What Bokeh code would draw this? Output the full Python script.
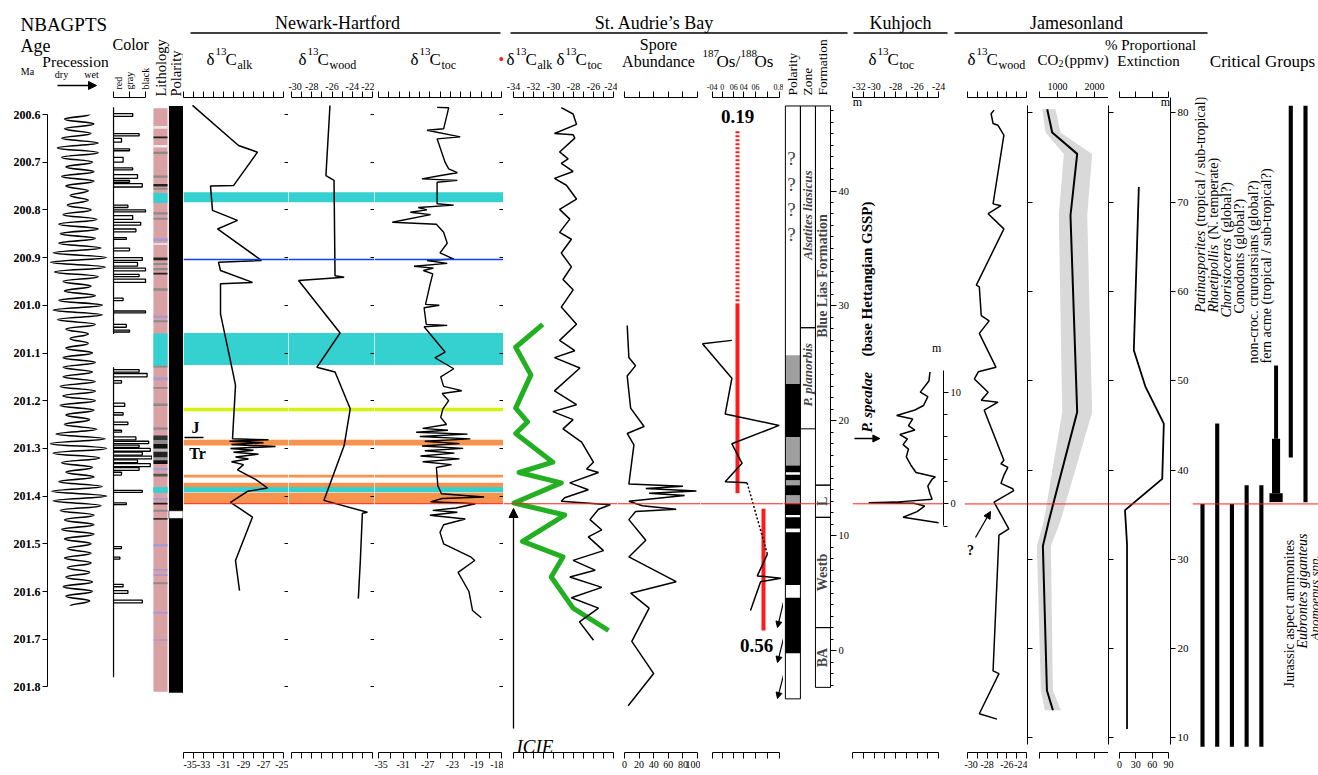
import math
from bokeh.plotting import figure
from bokeh.layouts import row, column
from bokeh.models import (Range1d, LinearAxis, FixedTicker, Label, Span, BoxAnnotation,
                          Arrow, NormalHead, CustomJSTickFormatter, NumeralTickFormatter)
from bokeh.embed import file_html
from bokeh.resources import INLINE

# ======================= DATA =======================
age_ticks = [200.6, 200.7, 200.8, 200.9, 201.0, 201.1, 201.2, 201.3, 201.4, 201.5, 201.6, 201.7, 201.8]

prec_age = [200.600, 200.610, 200.620, 200.630, 200.640, 200.650, 200.660, 200.670, 200.680, 200.690,
            200.700, 200.710, 200.720, 200.730, 200.740, 200.750, 200.760, 200.770, 200.780, 200.790,
            200.800, 200.810, 200.820, 200.830, 200.840, 200.850, 200.860, 200.870, 200.880, 200.890,
            200.900, 200.910, 200.920, 200.930, 200.940, 200.950, 200.960, 200.970, 200.980, 200.990,
            201.000, 201.010, 201.020, 201.030, 201.040, 201.050, 201.060, 201.070, 201.080, 201.090,
            201.100, 201.110, 201.120, 201.130, 201.140, 201.150, 201.160, 201.170, 201.180, 201.190,
            201.200, 201.210, 201.220, 201.230, 201.240, 201.250, 201.260, 201.270, 201.280, 201.290,
            201.300, 201.310, 201.320, 201.330, 201.340, 201.350, 201.360, 201.370, 201.380, 201.390,
            201.400, 201.410, 201.420, 201.430, 201.440, 201.450, 201.460, 201.470, 201.480, 201.490,
            201.500, 201.510, 201.520, 201.530, 201.540, 201.550, 201.560, 201.570, 201.580, 201.590,
            201.600, 201.610, 201.620, 201.630]
prec_val = [0.40, -0.50, 0.55, -0.50, 0.45, -0.60, 0.70, -0.75, 0.70, -0.60,
            0.50, -0.45, 0.55, -0.60, 0.55, -0.45, 0.35, -0.30, 0.35, -0.40,
            0.45, -0.55, 0.65, -0.70, 0.70, -0.65, 0.60, -0.70, 0.80, -0.90,
            1.00, -1.00, 0.95, -0.85, 0.70, -0.55, 0.45, -0.50, 0.60, -0.70,
            0.85, -0.90, 0.85, -0.75, 0.60, -0.45, 0.35, -0.30, 0.35, -0.45,
            0.50, -0.55, 0.60, -0.55, 0.50, -0.55, 0.60, -0.65, 0.60, -0.55,
            0.60, -0.65, 0.55, -0.45, 0.40, -0.50, 0.65, -0.80, 0.95, -1.00,
            1.00, -0.90, 0.75, -0.60, 0.50, -0.45, 0.55, -0.70, 0.85, -0.95,
            1.00, -0.90, 0.80, -0.65, 0.55, -0.50, 0.55, -0.60, 0.55, -0.50,
            0.45, -0.40, 0.45, -0.50, 0.45, -0.40, 0.40, -0.45, 0.50, -0.55,
            0.50, -0.45, 0.40, -0.30]

color_base_top = [200.585, 201.130]
color_base_bot = [201.060, 201.780]
color_sp_top = [200.598, 200.640, 200.650, 200.672, 200.690, 200.712, 200.726, 200.738, 200.745, 200.790,
                200.800, 200.812, 200.826, 200.840, 200.858, 200.880, 200.900, 200.910, 200.922, 200.935,
                200.945, 200.985, 201.012, 201.040, 201.052, 201.135, 201.143, 201.158, 201.205, 201.225,
                201.245, 201.262, 201.276, 201.285, 201.293, 201.300, 201.308, 201.316, 201.324, 201.332,
                201.340, 201.350, 201.388, 201.414, 201.506, 201.528, 201.585, 201.598, 201.618]
color_sp_bot = [200.604, 200.645, 200.658, 200.676, 200.700, 200.716, 200.734, 200.742, 200.752, 200.795,
                200.804, 200.820, 200.832, 200.846, 200.862, 200.886, 200.906, 200.918, 200.928, 200.940,
                200.952, 200.990, 201.016, 201.046, 201.056, 201.140, 201.150, 201.163, 201.212, 201.230,
                201.250, 201.266, 201.282, 201.290, 201.298, 201.306, 201.314, 201.322, 201.330, 201.338,
                201.346, 201.356, 201.392, 201.418, 201.510, 201.532, 201.590, 201.604, 201.624]
color_sp_val = [1.2, 1.6, 0.5, 1.0, 0.6, 1.2, 1.5, 1.0, 1.8, 0.9,
                2.0, 1.2, 1.7, 1.4, 0.8, 1.0, 1.8, 1.5, 2.0, 1.6,
                2.0, 0.6, 2.0, 0.8, 1.0, 1.6, 2.1, 0.5, 0.7, 0.6,
                0.9, 0.5, 1.4, 2.2, 1.6, 2.3, 1.8, 2.4, 1.5, 2.3,
                1.6, 0.5, 1.8, 0.8, 0.5, 0.4, 0.6, 0.9, 1.8]

litho_range = (200.585, 201.810)
litho_top = [200.622, 200.644, 200.662, 200.676, 200.726, 200.744, 200.752, 200.803, 200.815, 200.858,
             200.868, 200.898, 200.910, 200.920, 200.930, 200.963, 201.020, 201.030, 201.125, 201.150,
             201.170, 201.205, 201.255, 201.272, 201.282, 201.290, 201.300, 201.306, 201.318, 201.324,
             201.340, 201.352, 201.380, 201.403, 201.413, 201.428, 201.445, 201.500, 201.552, 201.563,
             201.580, 201.642, 201.700]
litho_bot = [200.628, 200.648, 200.667, 200.681, 200.731, 200.749, 200.756, 200.808, 200.819, 200.864,
             200.872, 200.904, 200.914, 200.925, 200.934, 200.968, 201.026, 201.034, 201.129, 201.156,
             201.174, 201.210, 201.260, 201.282, 201.290, 201.300, 201.306, 201.318, 201.324, 201.332,
             201.345, 201.358, 201.392, 201.408, 201.417, 201.432, 201.449, 201.505, 201.556, 201.567,
             201.584, 201.646, 201.703]
litho_col = ["#e8e8e8", "#222222", "#eeeeee", "#8a8a8a", "#8a8a8a", "#222222", "#8a8a8a", "#8a8a8a", "#8a8a8a", "#a69ad0",
             "#e0e0e0", "#222222", "#8a8a8a", "#8a8a8a", "#222222", "#8a8a8a", "#a69ad0", "#8a8a8a", "#8a8a8a", "#a69ad0",
             "#8a8a8a", "#8a8a8a", "#8a8a8a", "#333333", "#8a8a8a", "#111111", "#bbbbbb", "#222222", "#999999", "#111111",
             "#a69ad0", "#555555", "#57c9d6", "#a69ad0", "#222222", "#8a8a8a", "#333333", "#a69ad0", "#a69ad0", "#a69ad0",
             "#8a8a8a", "#a69ad0", "#a69ad0"]

nb_pol_range = (200.580, 201.812)
nb_pol_white = (201.430, 201.446)

band_top = [200.763, 201.058, 201.215, 201.282, 201.355, 201.372, 201.381, 201.393]
band_bot = [200.784, 201.125, 201.222, 201.294, 201.361, 201.381, 201.392, 201.416]
band_col = ["#35d0d0", "#35d0d0", "#d4f20a", "#f7934c", "#f7934c", "#f7934c", "#35d0d0", "#f7934c"]
blue_line_age = 200.904
tj_age = 201.416

nh_alk_age = [200.581, 200.665, 200.679, 200.749, 200.750, 200.801, 200.822, 200.840, 200.906, 200.910,
              200.927, 200.952, 200.955, 201.018, 201.147, 201.168, 201.280, 201.282, 201.285, 201.288,
              201.292, 201.296, 201.300, 201.304, 201.308, 201.312, 201.318, 201.322, 201.328, 201.334,
              201.345, 201.365, 201.383, 201.390, 201.413, 201.444, 201.535, 201.598]
nh_alk_val = [-34.1, -29.5, -27.6, -30.0, -32.3, -32.1, -29.6, -31.6, -27.2, -31.5,
              -31.3, -28.1, -31.3, -31.3, -30.0, -29.8, -30.1, -26.5, -30.4, -27.0,
              -30.2, -25.8, -30.3, -28.0, -30.0, -27.5, -29.8, -28.5, -30.2, -29.0,
              -29.6, -27.8, -26.6, -28.6, -30.3, -28.1, -29.8, -29.4]

nh_wood_age = [200.581, 200.728, 200.738, 200.938, 200.941, 200.948, 201.058, 201.130, 201.140, 201.217,
               201.294, 201.409, 201.434, 201.436, 201.535, 201.615]
nh_wood_val = [-26.2, -26.6, -25.8, -25.7, -24.8, -29.3, -25.2, -27.5, -25.7, -24.2,
               -24.8, -26.8, -22.5, -23.0, -23.2, -23.4]

nh_toc_age = [200.585, 200.586, 200.630, 200.633, 200.647, 200.651, 200.700, 200.714, 200.722, 200.728,
              200.735, 200.738, 200.742, 200.787, 200.790, 200.795, 200.800, 200.805, 200.810, 200.826,
              200.830, 200.847, 200.870, 200.890, 200.903, 200.906, 200.912, 200.918, 200.922, 200.927,
              200.934, 200.958, 200.998, 201.000, 201.005, 201.040, 201.042, 201.045, 201.098, 201.110,
              201.133, 201.150, 201.170, 201.179, 201.185, 201.200, 201.217, 201.235, 201.250, 201.258,
              201.262, 201.266, 201.270, 201.275, 201.280, 201.285, 201.290, 201.295, 201.300, 201.305,
              201.310, 201.316, 201.322, 201.328, 201.334, 201.340, 201.378, 201.395, 201.402, 201.405,
              201.412, 201.416, 201.425, 201.430, 201.434, 201.440, 201.448, 201.460, 201.476, 201.500,
              201.528, 201.535, 201.560, 201.600, 201.640, 201.655]
nh_toc_val = [-26.9, -25.3, -26.0, -28.3, -23.7, -26.9, -25.8, -25.3, -24.1, -26.4,
              -29.0, -24.1, -26.9, -26.9, -24.6, -29.5, -28.3, -30.6, -27.8, -33.1,
              -27.0, -26.0, -25.5, -26.5, -24.6, -28.3, -25.5, -30.1, -27.4, -28.8,
              -27.5, -27.9, -28.5, -26.6, -28.7, -28.4, -25.5, -28.7, -25.8, -27.2,
              -24.6, -26.4, -26.0, -23.5, -26.2, -25.3, -26.1, -26.4, -25.6, -28.9,
              -25.4, -29.8, -22.7, -29.3, -22.3, -28.6, -23.8, -29.0, -23.3, -28.6,
              -24.5, -29.2, -23.8, -28.9, -24.9, -27.0, -26.8, -26.3, -20.4, -26.2,
              -27.8, -21.6, -24.3, -27.5, -24.1, -27.9, -23.0, -26.0, -26.5, -26.0,
              -22.2, -21.7, -24.0, -22.5, -22.0, -20.8]

sta_toc_m = [47.25, 46.7, 45.8, 45.0, 44.9, 44.6, 43.4, 42.8, 42.4, 41.7, 41.1, 40.5, 39.3, 38.4, 37.55,
             36.4, 35.8, 34.6, 33.4, 32.3, 31.4, 29.9, 28.4, 27.0, 26.1, 25.5, 24.6, 22.6, 21.4, 20.8,
             20.1, 19.3, 18.15, 16.4, 15.8, 15.5, 14.6, 14.0, 13.3, 13.0, 12.7, 12.3, 11.4, 10.5, 9.9,
             8.7, 7.85, 7.0, 6.4, 5.5, 4.6, 3.7, 2.5, 0.9]
sta_toc_val = [-29.22, -28.04, -27.7, -29.9, -28.04, -27.87, -29.39, -28.54, -29.22, -28.04, -29.9, -28.71, -27.7,
               -29.39, -28.37, -29.39, -28.21, -29.22, -28.21, -29.05, -28.04, -29.22, -27.7, -29.39, -27.87,
               -29.9, -27.36, -29.9, -27.7, -30.06, -28.04, -29.05, -27.19, -26.01, -26.69, -25.5, -28.37,
               -26.52, -28.88, -29.22, -24.32, -25.5, -26.35, -25.17, -26.52, -25.0, -28.04, -25.84, -28.37,
               -25.17, -28.21, -25.5, -27.4, -26.0]
sta_alk_m = [28.4, 26.4, 24.0, 21.1, 19.9, 18.9, 16.4, 15.5, 14.6, 12.85, 11.8, 9.5, 8.15, 6.4, 3.7, 1.75]
sta_alk_val = [-31.08, -33.78, -32.26, -33.78, -32.6, -33.78, -30.06, -33.44, -29.22, -33.95, -28.88, -33.1,
               -29.05, -30.23, -28.04, -24.5]
sta_spore_m = [28.3, 25.5, 24.8, 23.9, 21.1, 19.5, 18.9, 17.9, 14.5, 14.3, 14.1, 13.9, 13.7, 13.5, 13.0, 12.6,
               12.3, 12.1, 11.4, 9.6, 8.15, 6.0, 5.0, 3.7, 0.8, -2.0, -4.8]
sta_spore_val = [3.7, 6.0, 15.2, 3.7, 8.4, 26.8, 3.7, 12.9, 6.0, 80.0, 29.2, 98.5, 33.7, 82.3, 6.0, 24.5,
                 70.8, 15.2, 6.0, 29.2, 6.0, 70.8, 8.4, 33.7, 10.0, 40.0, 5.0]
sta_os_m = [27.0, 26.7, 23.7, 20.6, 19.6, 18.0, 16.3, 14.7, 14.6]
sta_os_val = [0.110, -0.308, 0.110, 0.015, 0.783, 0.110, 0.255, 0.015, 0.327]
sta_os2_m = [8.4, 6.5, 6.3, 6.0, 3.5]
sta_os2_val = [0.615, 0.472, 0.808, 0.519, 0.375]
os_red_val = [0.19, 0.19, 0.56]
os_red_top = [45.2, 30.2, 12.35]
os_red_bot = [30.2, 13.7, 1.75]
os_red_dash = ["2 2", "solid", "solid"]
tj_sta_m = 12.78

sta_pol_top = [47.4, 25.7, 23.2, 18.6, 16.1, 15.5, 15.3, 14.8, 14.4, 13.5, 12.8, 11.8, 11.6, 10.6, 10.3, 5.7, 4.6, -0.25]
sta_pol_bot = [25.7, 23.2, 18.6, 16.1, 15.5, 15.3, 14.8, 14.4, 13.5, 12.8, 11.8, 11.6, 10.6, 10.3, 5.7, 4.6, -0.25, -4.2]
sta_pol_col = ["white", "#a0a0a0", "black", "#a0a0a0", "black", "white", "black", "#a0a0a0", "black", "#a0a0a0",
               "black", "white", "black", "white", "black", "white", "black", "white"]
sta_pol_q = [42.8, 40.6, 38.4, 36.2]
sta_zone_top = [47.4, 28.1]
sta_zone_bot = [28.1, 19.3]
sta_zone_name = ["Alsatites liasicus", "P. planorbis"]
sta_form_top = [47.4, 14.4, 11.6, 2.0]
sta_form_bot = [14.4, 11.6, 2.0, -3.2]
sta_form_name = ["Blue Lias Formation", "L", "Westb", "BA"]

kuh_m = [11.8, 11.0, 10.0, 9.6, 8.8, 8.4, 7.9, 7.6, 7.0, 6.6, 6.2, 5.8, 5.3, 4.9, 4.2, 3.5, 2.8, 2.4, 2.2,
         1.6, 0.9, 0.4, 0.15, 0.1, 0.05, -0.2, -0.7, -1.2, -1.7]
kuh_val = [-24.8, -24.9, -25.7, -25.0, -25.4, -26.2, -27.9, -26.4, -26.8, -26.2, -27.6, -26.9, -27.3, -26.8, -27.0,
           -26.6, -26.1, -24.3, -24.6, -25.0, -24.8, -24.6, -28.0, -30.5, -26.3, -25.3, -26.0, -27.3, -24.0]
tj_kuh_m = 0.0

jam_wood_m = [80.3, 79.9, 78.8, 78.6, 77.5, 69.8, 69.6, 68.7, 67.0, 60.7, 60.5, 57.3, 56.7, 55.3, 51.5, 51.0,
              50.2, 48.7, 47.8, 47.6, 46.7, 41.1, 40.7, 40.3, 39.4, 38.5, 37.9, 37.7, 37.3, 36.4, 33.4, 32.7,
              17.5, 17.2, 12.7, 12.1]
jam_wood_val = [-27.3, -27.6, -27.4, -26.9, -26.3, -27.4, -26.6, -27.9, -26.3, -29.1, -28.8, -28.6, -27.8, -28.8,
                -27.1, -28.9, -29.3, -27.9, -28.6, -26.9, -28.3, -26.3, -26.6, -25.9, -26.3, -26.6, -25.4, -25.3,
                -25.9, -27.3, -25.8, -26.8, -27.4, -26.8, -28.8, -27.0]
jam_co2_m = [80.4, 77.8, 75.4, 68.5, 46.5, 34.3, 31.5, 15.3, 13.1]
jam_co2_val = [722, 857, 1532, 1351, 1532, 765, 605, 714, 876]
jam_co2_lo = [586, 676, 1170, 1035, 1127, 630, 443, 551, 659]
jam_co2_hi = [946, 1081, 1937, 1803, 1937, 1081, 822, 876, 1092]
jam_ext_m = [71.7, 53.4, 49.3, 45.2, 39.0, 35.5, 31.7, 11.0]
jam_ext_val = [35.5, 26.3, 47.8, 81.4, 78.5, 10.1, 13.8, 13.8]
tj_jam_m = 36.2

crit_idx = [0, 1, 2, 3, 4, 6, 7]
crit_top = [36.2, 45.2, 36.2, 38.3, 38.3, 80.8, 80.8]
crit_bot = [9.0, 9.0, 9.0, 9.0, 9.0, 41.4, 36.4]
fat_top = [37.4, 43.5, 51.7]
fat_bot = [36.4, 37.4, 43.5]
fat_w = [0.9, 0.55, 0.27]

# ======================= LAYOUT =======================
FONT = "Liberation Serif"
FR_TOP, FR_BOT = 97, 752
HEAD_H = 36
TOPB = 76
BOT_B = 22
TOTAL_W = 1318
BFIX = 5   # alphabetic-baseline correction (px)

AGE_Y = ((200.6, 114.0), (201.8, 686.4))
STA_Y = ((40.0, 190.5), (0.0, 650.1))
KUH_Y = ((0.0, 503.3), (10.0, 391.6))
JAM_Y = ((40.0, 469.5), (10.0, 737.4))

GEOM = {}


def lin(p0, p1, a, b):
    (va, pa), (vb, pb) = a, b
    k = (vb - va) / (pb - pa)
    return va + (p0 - pa) * k, va + (p1 - pa) * k


def mk(slot, frame, xa, xb, yanch, top_px):
    s0, s1 = slot
    f0, f1 = frame
    x0, x1 = lin(f0, f1, xa, xb)
    yt, yb = lin(FR_TOP, FR_BOT, yanch[0], yanch[1])
    tb = FR_TOP - top_px
    p = figure(width=s1 - s0, height=tb + (FR_BOT - FR_TOP) + BOT_B, x_range=Range1d(x0, x1),
               y_range=Range1d(yb, yt), title=None,
               x_axis_type=None, y_axis_type=None, output_backend="svg", toolbar_location=None,
               min_border_left=f0 - s0, min_border_right=s1 - f1,
               min_border_top=tb, min_border_bottom=BOT_B)
    p.outline_line_color = None
    p.frame_align = False
    GEOM[p.id] = (f0, f1, x0, x1, yt, yb)
    return p


def strip(x0, x1, y0, y1):
    s = figure(width=x1 - x0, height=y1 - y0, x_range=Range1d(x0, x1), y_range=Range1d(y1, y0), title=None,
               x_axis_type=None, y_axis_type=None, output_backend="svg", toolbar_location=None, min_border=0)
    s.outline_line_color = None
    s.frame_align = False
    return s


def slab(s, x, y, text, size=17, align="left", style="normal", color="black"):
    s.add_layout(Label(x=x, y=y - BFIX, text=text, text_font=FONT, text_font_size=f"{size}px",
                       text_align=align, text_baseline="alphabetic", text_font_style=style, text_color=color))


def pd(p, rx, ry):
    f0, f1, x0, x1, yt, yb = GEOM[p.id]
    return (x0 + (rx - f0) / (f1 - f0) * (x1 - x0),
            yt + (ry - FR_TOP) / (FR_BOT - FR_TOP) * (yb - yt))


def lab(p, rx, ry, text, size=17, align="left", base="alphabetic", angle=0.0, style="normal", color="black"):
    x, y = pd(p, rx, ry - (BFIX if base == "alphabetic" else 0))
    p.add_layout(Label(x=x, y=y, text=text, text_font=FONT, text_font_size=f"{size}px",
                       text_align=align, text_baseline=base, angle=angle,
                       text_font_style=style, text_color=color))


def lab_d(p, x, y, text, size=14, align="center", base="middle", angle=0.0, style="normal"):
    p.add_layout(Label(x=x, y=y, text=text, text_font=FONT, text_font_size=f"{size}px",
                       text_align=align, text_baseline=base, angle=angle, text_font_style=style))


def d13c(s, rx, sub, base=64):
    slab(s, rx, base, "δ", 17)
    slab(s, rx + 9, base - 8, "13", 11)
    slab(s, rx + 19, base, "C", 17)
    slab(s, rx + 31, base + 5, sub, 12)


def axis(p, side, ticks, bounds=None, labels=None, minor=None, tout=6, tin=0, font=10, standoff=2,
         orient=None, fmt=None, mtl=None, line=True):
    ax = LinearAxis(ticker=FixedTicker(ticks=ticks, minor_ticks=minor or []))
    ax.major_tick_out = tout
    ax.major_tick_in = tin
    ax.minor_tick_out = (mtl if mtl is not None else tout) if minor else 0
    ax.minor_tick_in = tin if minor else 0
    ax.axis_line_color = "black" if line else None
    ax.major_tick_line_color = "black" if (tout or tin) else None
    ax.minor_tick_line_color = "black"
    ax.major_label_text_font = FONT
    ax.major_label_text_font_size = f"{font}px"
    if labels is None and fmt is None:
        ax.formatter = CustomJSTickFormatter(code="return '';")
        ax.major_label_text_color = None
        ax.major_label_standoff = 0
    else:
        ax.major_label_text_color = "black"
        ax.major_label_standoff = standoff
        if fmt is not None:
            ax.formatter = fmt
        elif labels != "auto":
            ax.formatter = CustomJSTickFormatter(args=dict(labs=labels), code="return labs[index];")
    if orient is not None:
        ax.major_label_orientation = orient
    if bounds is not None:
        ax.bounds = bounds
    p.add_layout(ax, side)
    return ax


def red_line(p, loc):
    p.add_layout(Span(location=loc, dimension="width", line_color="#ff2020", line_width=1))


def arrow(p, r0, r1, size=8, width=1.5, data=False):
    if data:
        (x0, y0), (x1, y1) = r0, r1
    else:
        x0, y0 = pd(p, *r0)
        x1, y1 = pd(p, *r1)
    p.add_layout(Arrow(x_start=x0, y_start=y0, x_end=x1, y_end=y1, line_width=width,
                       end=NormalHead(size=size, fill_color="black", line_color="black")))


# ----------------------- header -----------------------
hd = strip(0, TOTAL_W, 0, HEAD_H)
slab(hd, 20, 29, "NBAGPTS", 19)
groups = [("Newark-Hartford", 190, 500, 337), ("St. Audrie’s Bay", 510, 847, 654),
          ("Kuhjoch", 853, 947, 900), ("Jamesonland", 954, 1207, 1076)]
for name, g0, g1, gc in groups:
    slab(hd, gc, 27, name, 18, align="center")
hd.segment(x0=[g[1] for g in groups], y0=[32.5] * 4, x1=[g[2] for g in groups], y1=[32.5] * 4,
           line_color="black", line_width=1.3)

# ----------------------- NBAGPTS columns -----------------------
sA = strip(0, 112, HEAD_H, 90)
slab(sA, 20, 50, "Age", 18)
slab(sA, 75, 66, "Precession", 15.5, align="center")
slab(sA, 27, 76, "Ma", 10, align="center")
slab(sA, 61, 79, "dry", 10, align="center")
slab(sA, 91, 79, "wet", 10, align="center")
arrow(sA, (57, 85), (96, 85), size=8, width=1.5, data=True)

pA = mk((0, 112), (47, 112), (0.0, 78.0), (1.0, 106.0), AGE_Y, 90)
axA = axis(pA, "left", age_ticks, bounds=(200.6, 201.8), tout=5, font=12, standoff=2,
           fmt=NumeralTickFormatter(format="0.0"))
axA.major_label_text_font_style = "bold"
n = len(prec_age) - 1
hp = [(prec_age[i + 1] - prec_age[i]) * 0.4 for i in range(n)]
pA.bezier(x0=prec_val[:-1], y0=prec_age[:-1], x1=prec_val[1:], y1=prec_age[1:],
          cx0=prec_val[:-1], cy0=[prec_age[i] + hp[i] for i in range(n)],
          cx1=prec_val[1:], cy1=[prec_age[i + 1] - hp[i] for i in range(n)],
          line_color="black", line_width=1.6)

sCo = strip(112, 152, HEAD_H, 62)
slab(sCo, 112, 49, "Color", 16)
pC = mk((112, 152), (112, 152), (0.0, 113.0), (2.0, 145.0), AGE_Y, 62)
axis(pC, "above", [0, 1, 2], bounds=(0, 2), labels=["red", "gray", "black"], tout=6, font=10,
     standoff=2, orient=math.pi / 2)
pC.segment(x0=[0, 0], y0=color_base_top, x1=[0, 0], y1=color_base_bot, line_color="black", line_width=1.3)
xs, ys = [], []
for a, b, v in zip(color_sp_top, color_sp_bot, color_sp_val):
    xs.append([0, v, v, 0])
    ys.append([a, a, b, b])
pC.multi_line(xs=xs, ys=ys, line_color="black", line_width=1.3)

# lithology (0..1) and polarity (1..2) columns
pLP = mk((152, 183), (152, 183), (0.0, 152.0), (2.0, 183.0), AGE_Y, HEAD_H)
axis(pLP, "above", [0.52, 1.5], labels=["Lithology", "Polarity"], tout=0, font=14.5, standoff=2,
     orient=math.pi / 2, line=False)
pLP.quad(left=[0.06], right=[0.97], top=[litho_range[0]], bottom=[litho_range[1]], fill_color="#d9a1a3",
         line_color=None)
pLP.quad(left=0.06, right=0.97, top=litho_top, bottom=litho_bot, fill_color=litho_col, line_color=None)
for t, b, c in zip(band_top, band_bot, band_col):
    if c == "#35d0d0":
        pLP.quad(left=[0.06], right=[0.97], top=[t], bottom=[b], fill_color=c, line_color=None)
pLP.quad(left=[1.06], right=[1.97], top=[nb_pol_range[0]], bottom=[nb_pol_range[1]], fill_color="black",
         line_color=None)
pLP.quad(left=[1.06], right=[1.97], top=[nb_pol_white[0]], bottom=[nb_pol_white[1]], fill_color="white",
         line_color="black", line_width=0.6)

# ----------------------- Newark-Hartford + St Audrie's curves -----------------------
sB = strip(183, 783, HEAD_H, TOPB)
d13c(sB, 206, "alk")
d13c(sB, 298, "wood")
d13c(sB, 410, "toc")
slab(sB, 498, 64, "•", 16, color="#ff1a1a")
d13c(sB, 506, "alk")
d13c(sB, 556, "toc")
slab(sB, 658, 49, "Spore", 16, align="center")
slab(sB, 658, 66, "Abundance", 16, align="center")
slab(sB, 702, 58, "187", 11)
slab(sB, 716, 66, "Os/", 17)
slab(sB, 740, 58, "188", 11)
slab(sB, 754, 66, "Os", 17)


def nb_panel(slot, xa, xb):
    p = mk(slot, slot, xa, xb, AGE_Y, TOPB)
    for t, b, c in zip(band_top, band_bot, band_col):
        p.add_layout(BoxAnnotation(top=t, bottom=b, fill_color=c, fill_alpha=1.0, line_color=None, level="underlay"))
    p.add_layout(Span(location=blue_line_age, dimension="width", line_color="#1040ff", line_width=1.5))
    p.add_layout(Span(location=tj_age, dimension="width", line_color="#ff2020", line_width=1))
    axis(p, "right", age_ticks, bounds=(200.58, 201.82), tout=0, tin=4)
    return p


pAlk = nb_panel((183, 288), (-35.0, 183.0), (-25.0, 283.0))
axis(pAlk, "above", list(range(-35, -24)), bounds=(-35, -25))
axis(pAlk, "below", list(range(-35, -24)), bounds=(-35, -25), tout=6,
     labels=[str(v) if (v % 2) else "" for v in range(-35, -24)])
pAlk.line(nh_alk_val, nh_alk_age, line_color="black", line_width=1.5)
lab(pAlk, 195, 432, "J", 16, align="center", style="bold")
lab(pAlk, 197, 458, "Tr", 16, align="center", style="bold")
jx0, jy = pd(pAlk, 184, 437)
jx1, _ = pd(pAlk, 203, 437)
pAlk.segment(x0=[jx0], y0=[jy], x1=[jx1], y1=[jy], line_color="black", line_width=1.5)

pWood = nb_panel((288, 374), (-30.0, 291.0), (-22.0, 372.0))
axis(pWood, "above", list(range(-30, -21)), bounds=(-30, -22),
     labels=[str(v) if v % 2 == 0 else "" for v in range(-30, -21)], font=10, standoff=2)
axis(pWood, "below", list(range(-30, -21)), bounds=(-30, -22), tout=6)
pWood.line(nh_wood_val, nh_wood_age, line_color="black", line_width=1.5)

pToc = nb_panel((374, 503), (-35.0, 378.0), (-18.0, 501.0))
axis(pToc, "above", [-35 + 17 * i / 12 for i in range(13)], bounds=(-35, -18))
axis(pToc, "below", [-35 + 1.7 * i for i in range(11)], bounds=(-35, -18), tout=6,
     labels=["-35", "", "-31", "", "-27", "", "-23", "", "-19", "", "-18"])
pToc.line(nh_toc_val, nh_toc_age, line_color="black", line_width=1.4)

pSC = mk((503, 617), (503, 617), (-34.0, 513.0), (-24.0, 613.0), STA_Y, TOPB)
red_line(pSC, tj_sta_m)
axis(pSC, "above", list(range(-34, -23)), bounds=(-34, -24),
     labels=[str(v) if v % 2 == 0 else "" for v in range(-34, -23)], font=10, standoff=2)
axis(pSC, "below", list(range(-34, -23)), bounds=(-34, -24), tout=6)
pSC.line(sta_alk_val, sta_alk_m, line_color="#22b022", line_width=5, line_join="round")
pSC.line(sta_toc_val, sta_toc_m, line_color="black", line_width=1.5)
arrow(pSC, (513, 728), (513, 508), size=9, width=1.3)
lab(pSC, 516, 751, "ICIE", 19, style="italic")

pSp = mk((617, 700), (617, 700), (0.0, 624.0), (100.0, 697.0), STA_Y, TOPB)
red_line(pSp, tj_sta_m)
axis(pSp, "above", [0, 20, 40, 60, 80, 100], bounds=(0, 100))
axis(pSp, "below", [0, 20, 40, 60, 80, 100], bounds=(0, 100), tout=6,
     labels=["0", "20", "40", "60", "80", "100"])
pSp.line(sta_spore_val, sta_spore_m, line_color="black", line_width=1.5)

pOs = mk((700, 783), (700, 783), (0.19, 737.0), (0.56, 763.0), STA_Y, TOPB)
red_line(pOs, tj_sta_m)
os_ticks = [-0.170, -0.028, 0.137, 0.280, 0.446, 0.613, 0.792]
axis(pOs, "above", os_ticks, bounds=(-0.170, 0.792),
     labels=["-04", "0", "06", "04", "06", "", "0.8"], font=8, standoff=2)
axis(pOs, "below", os_ticks, bounds=(-0.170, 0.792), tout=6)
for v, t, b, dsh in zip(os_red_val, os_red_top, os_red_bot, os_red_dash):
    pOs.line([v, v], [t, b], line_color="#ff1a1a", line_width=4, line_dash=dsh)
pOs.line(sta_os_val, sta_os_m, line_color="black", line_width=1.5)
pOs.line(sta_os2_val, sta_os2_m, line_color="black", line_width=1.5)
pOs.line([sta_os_val[-1], sta_os2_val[0]], [sta_os_m[-1], sta_os2_m[0]], line_color="black",
         line_width=1.5, line_dash="2 2")
lab(pOs, 737, 121, "0.19", 19, align="center", style="bold")
lab(pOs, 756, 650, "0.56", 19, align="center", style="bold")
for (a, b) in [((785, 593), (777, 627)), ((785, 630), (777, 662)), ((785, 667), (777, 698))]:
    arrow(pOs, a, b, size=6, width=1.2)

# ----------------------- St Audrie's columns (tall) -----------------------
pSK = mk((783, 852), (783, 833), (0.0, 785.0), (3.0, 833.0), STA_Y, HEAD_H)
axis(pSK, "above", [0.5, 1.5, 2.5], labels=["Polarity", "Zone", "Formation"], tout=0, font=13.5, standoff=2,
     orient=math.pi / 2, line=False)
red_line(pSK, tj_sta_m)
pSK.quad(left=0, right=1, top=sta_pol_top, bottom=sta_pol_bot, fill_color=sta_pol_col, line_color=None)
pSK.quad(left=[0], right=[1], top=[sta_pol_top[0]], bottom=[sta_pol_bot[-1]], fill_color=None,
         line_color="black", line_width=1)
pSK.quad(left=1, right=2, top=sta_zone_top, bottom=sta_zone_bot, fill_color=None, line_color="black", line_width=1)
pSK.quad(left=2, right=3, top=sta_form_top, bottom=sta_form_bot, fill_color=None, line_color="black", line_width=1)
for mq in sta_pol_q:
    lab_d(pSK, 0.4, mq, "?", 19)
lab_d(pSK, 1.5, 37.9, sta_zone_name[0], 13, angle=math.pi / 2, style="bold italic")
lab_d(pSK, 1.5, 24.0, sta_zone_name[1], 13, angle=math.pi / 2, style="bold italic")
for t, b, nm in zip(sta_form_top, sta_form_bot, sta_form_name):
    mid = 32.6 if nm.startswith("Blue") else (t + b) / 2
    lab_d(pSK, 2.5, mid, nm, 14, angle=math.pi / 2, style="bold")
axis(pSK, "right", [0, 10, 20, 30, 40], bounds=(-3.2, 47.4), labels="auto", font=10.5, standoff=2,
     minor=[m for m in range(-3, 48) if m % 10 != 0], tout=6, mtl=3)

# ----------------------- Kuhjoch + Jamesonland -----------------------
sD = strip(852, TOTAL_W, HEAD_H, TOPB)
d13c(sD, 868, "toc")
d13c(sD, 967, "wood")
slab(sD, 1037, 64, "CO", 15)
slab(sD, 1058, 68, "2", 10)
slab(sD, 1064, 64, "(ppmv)", 15)
slab(sD, 1150, 49, "% Proportional", 15, align="center")
slab(sD, 1148, 65, "Extinction", 15, align="center")
slab(sD, 1262, 66, "Critical Groups", 17, align="center")

pK = mk((852, 964), (852, 945), (-32.0, 852.0), (-24.0, 940.0), KUH_Y, TOPB)
red_line(pK, tj_kuh_m)
axis(pK, "above", list(range(-32, -23)), bounds=(-32, -24),
     labels=[str(v) if v % 2 == 0 else "" for v in range(-32, -23)], font=10, standoff=2)
axis(pK, "below", list(range(-32, -23)), bounds=(-32, -24), tout=6)
axis(pK, "right", [0, 10], bounds=(-1.9, 11.9), labels="auto", font=10.5, standoff=2,
     minor=[-2, 2, 4, 6, 8], tout=5, mtl=4)
pK.line(kuh_val, kuh_m, line_color="black", line_width=1.5)
lab(pK, 857, 106, "m", 12, align="center")
lab(pK, 938, 352, "m", 12, align="center")
lab(pK, 867, 432, "P. spealae", 15, angle=math.pi / 2, base="middle", style="bold italic")
lab(pK, 867, 356, "(base Hettangian GSSP)", 15, angle=math.pi / 2, base="middle", style="bold")
arrow(pK, (854, 438), (880, 438), size=7, width=1.5)

pJW = mk((964, 1027), (964, 1027), (-30.0, 967.0), (-24.0, 1026.0), JAM_Y, TOPB)
red_line(pJW, tj_jam_m)
axis(pJW, "above", list(range(-30, -23)), bounds=(-30, -24))
axis(pJW, "below", list(range(-30, -23)), bounds=(-30, -24), tout=6,
     labels=[str(v) if v % 2 == 0 else "" for v in range(-30, -23)])
pJW.line(jam_wood_val, jam_wood_m, line_color="black", line_width=1.5)
lab(pJW, 970, 555, "?", 14, align="center", style="bold")
arrow(pJW, (975, 537), (990, 511), size=7, width=1.3)

jam_ticks = [10, 20, 30, 40, 50, 60, 70, 80]
pCO = mk((1027, 1108), (1027, 1108), (1000.0, 1057.0), (2000.0, 1094.0), JAM_Y, TOPB)
red_line(pCO, tj_jam_m)
axis(pCO, "left", jam_ticks, bounds=(9.3, 80.8), tout=0, tin=5)
co2_ticks = [500, 1000, 1500, 2000, 2400]
axis(pCO, "above", co2_ticks, bounds=(500, 2400), labels=["", "1000", "", "2000", ""], font=10, standoff=2)
axis(pCO, "below", co2_ticks, bounds=(500, 2400), tout=6)
pCO.harea(x1=jam_co2_lo, x2=jam_co2_hi, y=jam_co2_m, fill_color="#d9d9d9")
pCO.line(jam_co2_val, jam_co2_m, line_color="black", line_width=2)

pE = mk((1108, 1192), (1108, 1170), (0.0, 1119.0), (90.0, 1168.0), JAM_Y, TOPB)
red_line(pE, tj_jam_m)
axis(pE, "left", jam_ticks, bounds=(9.3, 80.8), tout=0, tin=5)
axis(pE, "right", jam_ticks, bounds=(9.3, 81.8), labels="auto", font=11, standoff=2, tout=5)
axis(pE, "above", [0, 30, 60, 90], bounds=(0, 90))
axis(pE, "below", [0, 30, 60, 90], bounds=(0, 90), tout=6, labels=["0", "30", "60", "90"])
pE.line(jam_ext_val, jam_ext_m, line_color="black", line_width=1.8)
lab(pE, 1165, 106, "m", 12, align="center")

pG = mk((1192, TOTAL_W), (1192, TOTAL_W), (0.0, 1202.0), (7.0, 1305.0), JAM_Y, TOPB)
red_line(pG, tj_jam_m)
pG.quad(left=[i - 0.14 for i in crit_idx], right=[i + 0.14 for i in crit_idx], top=crit_top, bottom=crit_bot,
        fill_color="black", line_color=None)
pG.quad(left=[5 - w / 2 for w in fat_w], right=[5 + w / 2 for w in fat_w], top=fat_top, bottom=fat_bot,
        fill_color="black", line_color=None)
crit_labels = [
    (1200, 312, 14, [("Patinasporites", "italic"), ("(tropical / sub-tropical)", "normal")]),
    (1213, 312, 14, [("Rhaetipollis", "italic"), ("(N. temperate)", "normal")]),
    (1226, 317, 14, [("Choristoceras", "italic"), ("(global?)", "normal")]),
    (1239, 313, 14, [("Conodonts (global?)", "normal")]),
    (1253, 363, 14, [("non-croc. crurotarsians (global?)", "normal")]),
    (1266, 363, 14, [("fern acme  (tropical / sub-tropical?)", "normal")]),
    (1289, 687, 14, [("Jurassic aspect ammonites", "normal")]),
    (1302, 648, 14, [("Eubrontes giganteus", "italic")]),
    (1314, 640, 13, [("Anomoepus spp.", "italic")]),
]
ital_len = {"Patinasporites": 86, "Rhaetipollis": 73, "Choristoceras": 85}
for rx, ry, fs, parts in crit_labels:
    y = ry
    for txt, st in parts:
        lab(pG, rx, y, txt, fs, angle=math.pi / 2, base="middle", style=st)
        y -= ital_len.get(txt, 0)

layout = column(hd, row(column(sA, pA), column(sCo, pC), pLP,
                        column(sB, row(pAlk, pWood, pToc, pSC, pSp, pOs)),
                        pSK,
                        column(sD, row(pK, pJW, pCO, pE, pG))))
open("out.html", "w").write(file_html(layout, INLINE))
